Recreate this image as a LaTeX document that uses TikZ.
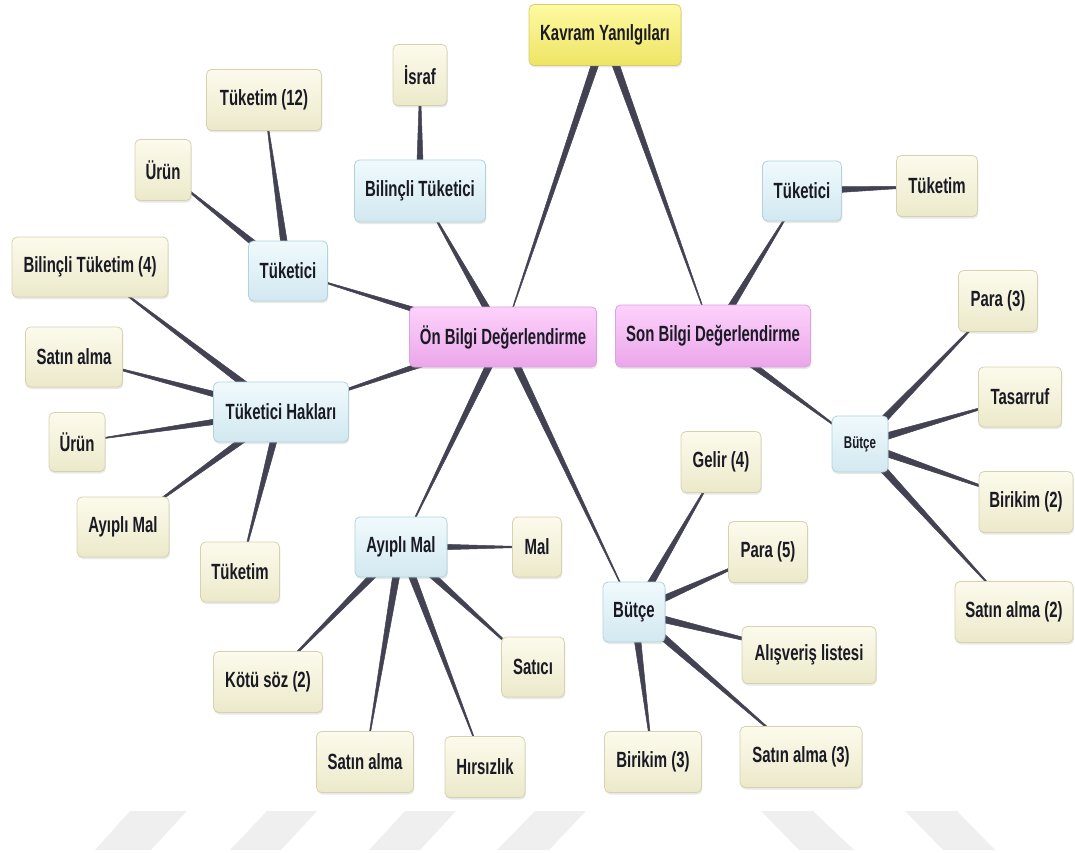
\documentclass[tikz,border=0pt]{standalone}
\usepackage{fontspec}
\setmainfont{Liberation Sans}[FakeStretch=0.68]
\usetikzlibrary{calc,shadows,backgrounds}
\definecolor{edgec}{RGB}{66,66,82}
\definecolor{txtc}{RGB}{26,26,36}
\definecolor{yelT}{RGB}{253,250,160}
\definecolor{yelB}{RGB}{238,228,100}
\definecolor{yelD}{RGB}{215,205,110}
\definecolor{pinkT}{RGB}{253,210,251}
\definecolor{pinkB}{RGB}{234,166,234}
\definecolor{pinkD}{RGB}{222,160,222}
\definecolor{bluT}{RGB}{240,250,253}
\definecolor{bluB}{RGB}{210,232,240}
\definecolor{bluD}{RGB}{178,210,220}
\definecolor{crT}{RGB}{252,251,236}
\definecolor{crB}{RGB}{236,233,202}
\definecolor{crD}{RGB}{214,210,176}
\definecolor{wmark}{RGB}{239,239,239}
\tikzset{
  box/.style={rounded corners=5pt, inner sep=0pt, text=txtc, font=\bfseries\fontsize{22}{24}\selectfont,
    line width=0.8pt, drop shadow={opacity=0.18, shadow xshift=0.8pt, shadow yshift=-2pt}},
  yelbox/.style={box, draw=yelD, top color=yelT, bottom color=yelB},
  pinkbox/.style={box, draw=pinkD, top color=pinkT, bottom color=pinkB},
  blubox/.style={box, draw=bluD, top color=bluT, bottom color=bluB},
  crbox/.style={box, draw=crD, top color=crT, bottom color=crB},
  sz/.style 2 args={minimum width=#1, minimum height=#2},
}
\newcommand{\taper}[2]{%
  \path let \p1=(#1.center), \p2=(#2.center), \n1={atan2(\y2-\y1,\x2-\x1)} in
    [fill=edgec, draw=edgec, line width=0.5pt, line join=round]
    ($(\p1)+(\n1+90:4pt)$) -- ($(\p1)+(\n1-90:4pt)$) -- (\p2) -- cycle;}
\begin{document}
\begin{tikzpicture}[x=1pt,y=-1pt]
\useasboundingbox (0,0) rectangle (1075,853);
% watermark stripes
\foreach \a/\b/\c/\d in {130/187/151/95, 267/317/281/230, 405/456/420/369, 535/586/549/497}{
  \fill[wmark] (\a,811) -- (\b,811) -- (\c,850) -- (\d,850) -- cycle;}
\foreach \a/\b/\c/\d in {761/813/854/799, 905/957/995/943}{
  \fill[wmark] (\a,811) -- (\b,811) -- (\c,850) -- (\d,850) -- cycle;}
% nodes
\node[yelbox, sz={152}{61}] (kavram) at (605,35) {Kavram Yanılgıları};
\node[pinkbox, sz={187}{60}] (on) at (503,337) {Ön Bilgi Değerlendirme};
\node[pinkbox, sz={195}{62}] (son) at (713,336) {Son Bilgi Değerlendirme};
\node[blubox, sz={131}{62}] (bilt) at (420,191) {Bilinçli Tüketici};
\node[crbox, sz={54}{61}] (israf) at (420,75) {İsraf};
\node[blubox, sz={79}{60}] (tukL) at (288,271) {Tüketici};
\node[crbox, sz={115}{61}] (tuk12) at (264,100) {Tüketim (12)};
\node[crbox, sz={56}{61}] (urunT) at (163,170) {Ürün};
\node[blubox, sz={135}{60}] (th) at (281,412) {Tüketici Hakları};
\node[crbox, sz={156}{60}] (bilt4) at (90,267) {Bilinçli Tüketim (4)};
\node[crbox, sz={97}{60}] (satinL) at (74,357) {Satın alma};
\node[crbox, sz={56}{59}] (urunL) at (77,442) {Ürün};
\node[crbox, sz={92}{60}] (ayipliL) at (123,527) {Ayıplı Mal};
\node[crbox, sz={79}{60}] (tuketimL) at (240,572) {Tüketim};
\node[blubox, sz={92}{60}] (ayipli) at (401,547) {Ayıplı Mal};
\node[crbox, sz={49}{60}] (mal) at (537,547) {Mal};
\node[crbox, sz={63}{60}] (satici) at (533,667) {Satıcı};
\node[crbox, sz={109}{61}] (kotu) at (268,682) {Kötü söz (2)};
\node[crbox, sz={97}{61}] (satinB) at (365,762) {Satın alma};
\node[crbox, sz={80}{61}] (hirsiz) at (485,767) {Hırsızlık};
\node[blubox, sz={62}{60}] (butceB) at (634,612) {Bütçe};
\node[crbox, sz={80}{61}] (gelir4) at (721,462) {Gelir (4)};
\node[crbox, sz={79}{61}] (para5) at (768,552) {Para (5)};
\node[crbox, sz={134}{57}] (alis) at (809,655) {Alışveriş listesi};
\node[crbox, sz={97}{61}] (birikim3) at (653,762) {Birikim (3)};
\node[crbox, sz={122}{61}] (satin3) at (801,757) {Satın alma (3)};
\node[blubox, sz={79}{60}] (tukR) at (802,191) {Tüketici};
\node[crbox, sz={81}{61}] (tuketimR) at (937,186) {Tüketim};
\node[blubox, sz={56}{56}, font=\bfseries\fontsize{17}{19}\selectfont] (butceR) at (860,444) {Bütçe};
\node[crbox, sz={79}{61}] (para3) at (998,301) {Para (3)};
\node[crbox, sz={83}{60}] (tasarruf) at (1020,397) {Tasarruf};
\node[crbox, sz={94}{61}] (birikim2) at (1026,502) {Birikim (2)};
\node[crbox, sz={118}{61}] (satin2) at (1014,612) {Satın alma (2)};
% tapered connectors (thick end at parent)
\begin{scope}[on background layer]
\foreach \a/\b in {kavram/on, kavram/son,
  on/bilt, bilt/israf, on/tukL, tukL/tuk12, tukL/urunT,
  on/th, th/bilt4, th/satinL, th/urunL, th/ayipliL, th/tuketimL,
  on/ayipli, ayipli/mal, ayipli/satici, ayipli/kotu, ayipli/satinB, ayipli/hirsiz,
  on/butceB, butceB/gelir4, butceB/para5, butceB/alis, butceB/birikim3, butceB/satin3,
  son/tukR, tukR/tuketimR, son/butceR, butceR/para3, butceR/tasarruf, butceR/birikim2, butceR/satin2}
  {\taper{\a}{\b}}
\end{scope}
\end{tikzpicture}
\end{document}
